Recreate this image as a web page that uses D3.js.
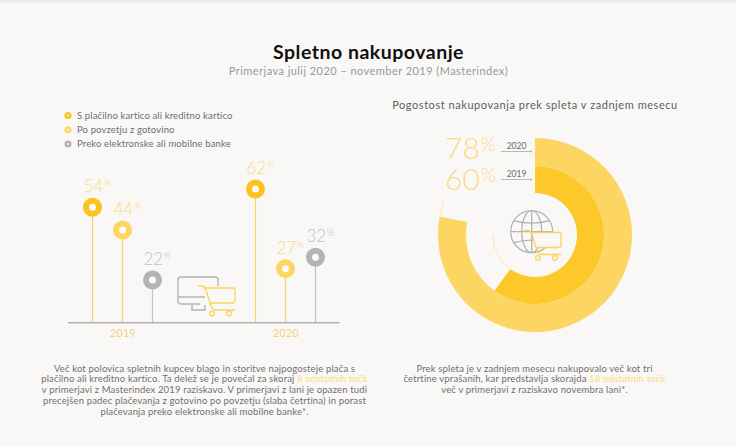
<!DOCTYPE html>
<html>
<head>
<meta charset="utf-8">
<script src="https://cdnjs.cloudflare.com/ajax/libs/d3/7.8.5/d3.min.js"></script>
<style>
html, body { margin: 0; padding: 0; background: #f9f8f7; }
svg { display: block; font-family: Lato, sans-serif; }
</style>
</head>
<body>
<div id="chart"></div>
<script>
const years = ['2019', '2020'];
const methods = ['S plačilno kartico ali kreditno kartico', 'Po povzetju z gotovino', 'Preko elektronske ali mobilne banke'];
const values2019 = [54, 44, 22];
const values2020 = [62, 27, 32];
const methodColors = ['#fcc31e', '#fdd563', '#b5b4b2'];
const stemColors = ['#f9d463', '#f9d463', '#c4c3c1'];
const labelColors = ['#fadb85', '#fadb85', '#c4c3c1'];

const donutYears = ['2020', '2019'];
const donutValues = [78, 60];
const donutColors = ['#fdd563', '#fcc82a'];

const leftText = [
    [['Več kot polovica spletnih kupcev blago in storitve najpogosteje plača s']],
    [['plačilno ali kreditno kartico. Ta delež se je povečal za skoraj '], ['8 odstotnih točk', 1]],
    [['v primerjavi z Masterindex 2019 raziskavo. V primerjavi z lani je opazen tudi']],
    [['precejšen padec plačevanja z gotovino po povzetju (slaba četrtina) in porast']],
    [['plačevanja preko elektronske ali mobilne banke*.']]
];
const rightText = [
    [['Prek spleta je v zadnjem mesecu nakupovalo več kot tri']],
    [['četrtine vprašanih, kar predstavlja skorajda '], ['18 odstotnih točk', 1]],
    [['več v primerjavi z raziskavo novembra lani*.']]
];

const width = 736;
const height = 446;
const grey = '#b5b4b2';
const yellow = '#fbd35a';

const svg = d3.select('#chart')
    .append('svg')
    .attr('width', width)
    .attr('height', height);

svg.append('rect').attr('width', width).attr('height', 2.5).attr('fill', '#e9e9e9');

// Titles
svg.append('text')
    .attr('x', 368.5).attr('y', 59)
    .attr('text-anchor', 'middle')
    .attr('font-size', 19.5).attr('font-weight', 700)
    .attr('letter-spacing', 0.5)
    .attr('fill', '#111')
    .text('Spletno nakupovanje');

svg.append('text')
    .attr('x', 368.5).attr('y', 75)
    .attr('text-anchor', 'middle')
    .attr('font-size', 11).attr('letter-spacing', 0.45)
    .attr('fill', '#9a9997')
    .text('Primerjava julij 2020 – november 2019 (Masterindex)');

svg.append('text')
    .attr('x', 535).attr('y', 109)
    .attr('text-anchor', 'middle')
    .attr('font-size', 11).attr('letter-spacing', 0.55)
    .attr('fill', '#5e5e5e')
    .text('Pogostost nakupovanja prek spleta v zadnjem mesecu');

// Legend
const legendY = d3.scalePoint().domain(methods).range([115.5, 144]);
const legend = svg.selectAll('.legend')
    .data(methods)
    .enter().append('g')
    .attr('transform', d => `translate(68,${legendY(d)})`);

legend.append('circle')
    .attr('r', 2.3)
    .attr('fill', 'none')
    .attr('stroke', (d, i) => methodColors[i])
    .attr('stroke-width', 2.5);

legend.append('text')
    .attr('x', 9).attr('y', 3.2)
    .attr('font-size', 9.5).attr('letter-spacing', 0.13)
    .attr('fill', '#6e6e6e')
    .text(d => d);

// Lollipops
const xYear = d3.scalePoint().domain(years).range([122.5, 285.5]);
const xMethod = d3.scalePoint().domain(methods).range([-30, 30]);
const y = d3.scaleLinear().domain([22, 62]).range([280, 189]);
const baseY = 322.7;

const points = [];
years.forEach((yr, j) => {
    const vals = j === 0 ? values2019 : values2020;
    vals.forEach((v, i) => points.push({ year: yr, i, value: v }));
});

const px = d => xYear(d.year) + xMethod(methods[d.i]);

svg.selectAll('.stem')
    .data(points)
    .enter().append('line')
    .attr('class', 'stem')
    .attr('x1', px).attr('x2', px)
    .attr('y1', d => y(d.value)).attr('y2', baseY)
    .attr('stroke', d => stemColors[d.i])
    .attr('stroke-width', 1.2);

svg.append('line')
    .attr('x1', 68).attr('x2', 339.5)
    .attr('y1', baseY).attr('y2', baseY)
    .attr('stroke', '#b3b2b0').attr('stroke-width', 1.5);

svg.selectAll('.dot')
    .data(points)
    .enter().append('circle')
    .attr('class', 'dot')
    .attr('cx', px)
    .attr('cy', d => y(d.value))
    .attr('r', 6.5)
    .attr('fill', '#fbfafa')
    .attr('stroke', d => methodColors[d.i])
    .attr('stroke-width', 6);

const valueLabel = svg.selectAll('.value')
    .data(points)
    .enter().append('text')
    .attr('class', 'value')
    .attr('x', d => px(d) - 9)
    .attr('y', d => y(d.value) - 15)
    .attr('font-weight', 300)
    .attr('fill', d => labelColors[d.i]);

valueLabel.append('tspan').attr('font-size', 17).text(d => d.value);
valueLabel.append('tspan').attr('font-size', 9.5).attr('dy', -6).attr('dx', 0.5).text('%');

const axis = svg.append('g')
    .attr('transform', 'translate(0,330)')
    .call(d3.axisBottom(xYear).tickSize(0).tickPadding(0));
axis.select('.domain').remove();
axis.selectAll('text')
    .attr('font-family', 'Lato, sans-serif')
    .attr('font-size', 10.5).attr('letter-spacing', 0.4)
    .attr('fill', '#f3d27a');

// Icons
function cart(g) {
    g.append('path')
        .attr('d', 'M0,0 H4 C6,0 7,1 8,4 L13,20 C14,23 15,24 18,24 H37')
        .attr('fill', 'none').attr('stroke', yellow).attr('stroke-width', 1.3);
    g.append('path')
        .attr('d', 'M6,2 H35 Q37,2 37,4 V14 Q37,17 34,17 H12')
        .attr('fill', 'none').attr('stroke', yellow).attr('stroke-width', 1.3);
    g.selectAll('.wheel').data([14, 31]).enter().append('circle')
        .attr('cx', d => d).attr('cy', 27.5).attr('r', 2.3)
        .attr('fill', 'none').attr('stroke', yellow).attr('stroke-width', 1.3);
}

const monitor = svg.append('g').attr('fill', 'none').attr('stroke', grey).attr('stroke-width', 1.4);
monitor.append('path').attr('d', 'M200,304 H181 Q178,304 178,301 V280 Q178,277 181,277 H215 Q218,277 218,280 V286');
monitor.append('path').attr('d', 'M178,297 H205');
monitor.append('path').attr('d', 'M192,305 V310 H205 V305');
svg.append('g').attr('transform', 'translate(198,286)').call(cart);

// Donut
const cx = 535, cy = 235;
const angle = d3.scaleLinear().domain([0, 100]).range([0, 2 * Math.PI]);
const arc = d3.arc();
const donut = svg.append('g').attr('transform', `translate(${cx},${cy})`);
const radii = [[69, 97], [42, 69]];

donut.selectAll('.ring')
    .data(donutValues)
    .enter().append('path')
    .attr('class', 'ring')
    .attr('fill', (d, i) => donutColors[i])
    .attr('d', (d, i) => arc({
        innerRadius: radii[i][0],
        outerRadius: radii[i][1],
        startAngle: 0,
        endAngle: angle(d)
    }));

// faint hairlines past the ring ends
[[97, 78, 80.5], [42, 60, 75]].forEach(h => {
    donut.append('path')
        .attr('fill', 'none').attr('stroke', '#fde9ae').attr('stroke-width', 0.8)
        .attr('d', d3.arc()({ innerRadius: h[0], outerRadius: h[0], startAngle: angle(h[1]), endAngle: angle(h[2]) }));
});

const globe = svg.append('g')
    .attr('transform', 'translate(531.7,231.7)')
    .attr('fill', 'none').attr('stroke', grey).attr('stroke-width', 1.3);
globe.append('circle').attr('r', 21);
globe.append('ellipse').attr('rx', 10).attr('ry', 21);
globe.append('line').attr('y1', -21).attr('y2', 21);
globe.append('line').attr('x1', -21).attr('x2', 21);
globe.append('path').attr('d', 'M-18,-11 Q0,-6 18,-11 M-18,11 Q0,6 18,11');
svg.append('rect').attr('x', 533).attr('y', 232).attr('width', 28).attr('height', 16).attr('fill', '#f9f8f7');
svg.append('g').attr('transform', 'translate(524,230.5)').call(cart);

// Donut labels
const labelBase = d3.scalePoint().domain(donutYears).range([159, 190]);
const tagBase = d3.scalePoint().domain(donutYears).range([151.5, 179.5]);

donutYears.forEach((yr, i) => {
    const t = svg.append('text')
        .attr('x', 445).attr('y', labelBase(yr))
        .attr('font-weight', 300).attr('fill', '#fbdb84');
    t.append('tspan').attr('font-size', 30).text(donutValues[i]);
    t.append('tspan').attr('font-size', 19).attr('dy', -8).attr('dx', 1).text('%');

    svg.append('text')
        .attr('x', 516.5).attr('y', tagBase(yr) - 2.5)
        .attr('text-anchor', 'middle')
        .attr('font-size', 8.5).attr('fill', '#6a6a6a')
        .text(yr);
    svg.append('line')
        .attr('x1', 501).attr('x2', 531)
        .attr('y1', tagBase(yr)).attr('y2', tagBase(yr))
        .attr('stroke', '#a9a8a6').attr('stroke-width', 0.8);
    svg.append('circle')
        .attr('cx', 531).attr('cy', tagBase(yr)).attr('r', 1)
        .attr('fill', '#a9a8a6');
});

// Paragraphs: measure each line and centre it by hand, mixed tspans drift otherwise
function paragraph(lines, x, top) {
    lines.forEach((line, i) => {
        const t = svg.append('text')
            .attr('y', top + i * 10.75)
            .attr('font-size', 9.5).attr('letter-spacing', 0.15)
            .attr('fill', '#706f6e')
            .attr('xml:space', 'preserve')
            .style('white-space', 'pre');
        line.forEach(part => {
            t.append('tspan')
                .attr('fill', part[1] ? '#fbdc84' : null)
                .text(part[0]);
        });
        t.attr('x', x - t.node().getComputedTextLength() / 2);
    });
}
paragraph(leftText, 204.5, 371.5);
paragraph(rightText, 534.5, 371.5);
</script>
</body>
</html>
